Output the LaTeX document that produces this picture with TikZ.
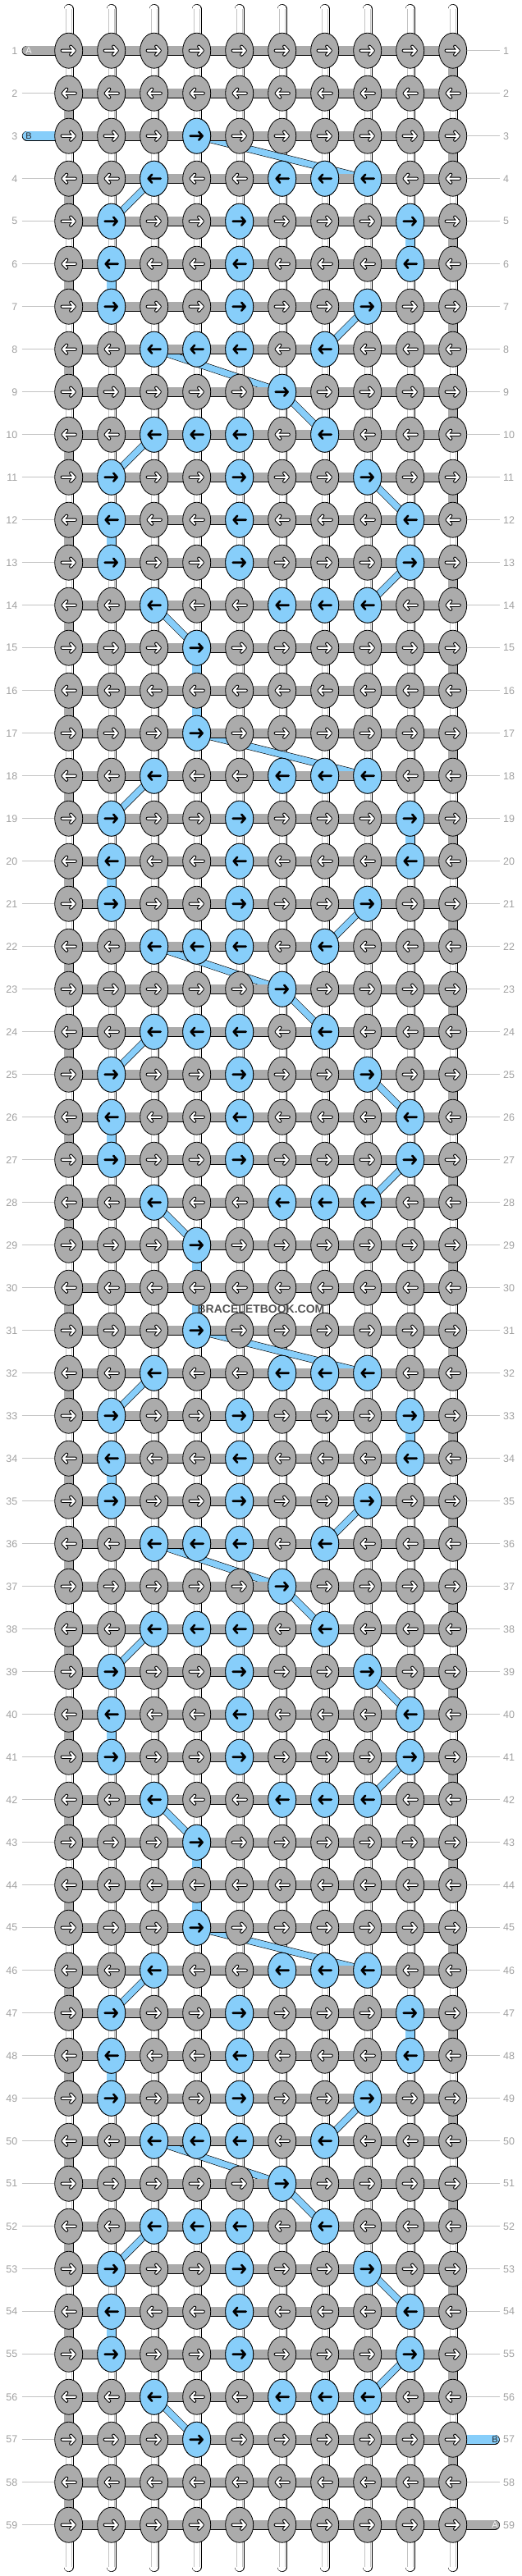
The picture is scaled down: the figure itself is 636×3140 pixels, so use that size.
\documentclass[tikz,border=0pt]{standalone}
\usepackage{fontspec}
\setmainfont{Liberation Sans}
\usetikzlibrary{shapes.geometric}

\definecolor{knotgray}{RGB}{171,171,171}
\definecolor{knotblue}{RGB}{135,206,250}
\definecolor{labgray}{RGB}{160,160,160}
\definecolor{labline}{RGB}{195,195,195}

\pgfdeclarelayer{warp}
\pgfdeclarelayer{weft}
\pgfdeclarelayer{bars}
\pgfsetlayers{warp,weft,bars,main}

\tikzset{
  knot/.style={ellipse, draw=black, line width=0.8pt, fill=knotgray,
    minimum width=34pt, minimum height=43pt, inner sep=0pt},
  blueknot/.style={knot, fill=knotblue},
  warpline/.style={draw=black, line width=0.6pt, double=white,
    double distance=10.5pt, line cap=round},
  barline/.style={draw=black, line width=0.6pt, double=knotgray,
    double distance=10.8pt},
  bvert/.style={draw=black, line width=0.6pt, double=knotblue,
    double distance=10.5pt},
  bdiag/.style={draw=black, line width=0.6pt, double=knotblue,
    double distance=7.5pt},
  rowlab/.style={text=labgray, font=\fontsize{12.5}{14}\selectfont, inner sep=0pt},
  labrule/.style={draw=labline, line width=0.8pt},
  endlab/.style={font=\fontsize{11}{12}\selectfont, inner sep=0pt},
  wbarb/.pic={
    \draw[black, line width=4.2pt, line cap=round, line join=round]
      (-8,0) -- (7,0) (2.5,-5) -- (7,0) -- (2.5,5);
    \draw[white, line width=2.2pt, line cap=round, line join=round]
      (-8,0) -- (7,0) (2.5,-5) -- (7,0) -- (2.5,5);
  },
  kbarb/.pic={
    \draw[black, line width=2.6pt, line cap=round, line join=round]
      (-8,0) -- (7,0) (2.5,-5) -- (7,0) -- (2.5,5);
  }
}

\begin{document}
\begin{tikzpicture}[x=1pt, y=-1pt]
\useasboundingbox (0,0) rectangle (636,3140);

% knots, arrows and row numbers
\foreach \r in {1,...,59} {
  \pgfmathsetmacro{\yy}{61.7+52*(\r-1)}
  \pgfmathtruncatemacro{\dir}{isodd(\r) ? 1 : -1}
  \foreach \c in {1,...,10} {
    \node[knot] (k-\r-\c) at ({83.7+52*(\c-1)}, \yy) {};
    \pic[xscale=\dir] at (k-\r-\c) {wbarb};
  }
  \node[rowlab, anchor=east] (ll-\r) at (21.5, \yy) {\r};
  \node[rowlab, anchor=west] (rl-\r) at (613, \yy) {\r};
}

% blue knots of the motif
\foreach \base in {3,17,31,45}
  \foreach \cols [count=\k from 0] in {{4},{3,6,7,8},{2,5,9},{2,5,9},{2,5,8},{3,4,5,7},{6},{3,4,5,7},{2,5,8},{2,5,9},{2,5,9},{3,6,7,8},{4}} {
    \pgfmathtruncatemacro{\r}{\base+\k}
    \pgfmathtruncatemacro{\dir}{isodd(\r) ? 1 : -1}
    \foreach \c in \cols {
      \node[blueknot] (b-\r-\c) at (k-\r-\c) {};
      \pic[xscale=\dir] at (b-\r-\c) {kbarb};
    }
  }

% label rules
\foreach \r in {2,4,5,...,59}
  \draw[labrule] ([xshift=5.2pt]ll-\r.east) -- (k-\r-1.west);
\foreach \r in {1,...,56,58}
  \draw[labrule] (k-\r-10.east) -- ([xshift=-4pt]rl-\r.west);

% vertical strings
\begin{pgfonlayer}{warp}
  \foreach \c in {1,...,10} {
    \coordinate (wt-\c) at ({83.7+52*(\c-1)}, 10.9);
    \coordinate (wb-\c) at ({83.7+52*(\c-1)}, 3129.1);
    \draw[warpline] (wt-\c) -- (wb-\c);
    \draw[labline, line width=0.5pt] ([xshift=-3.2pt]wt-\c) -- ([xshift=-3.2pt]wb-\c)
      ([xshift=3.2pt]wt-\c) -- ([xshift=3.2pt]wb-\c);
  }
\end{pgfonlayer}

% string B from knot to knot
\begin{pgfonlayer}{weft}
  \foreach \base in {3,17,31,45}
    \foreach \k/\a/\b in {0/4/8,1/3/2,2/9/9,3/2/2,4/8/7,5/3/6,6/6/7,7/3/2,8/8/9,9/2/2,10/9/8,11/3/4} {
      \pgfmathtruncatemacro{\r}{\base+\k}
      \pgfmathtruncatemacro{\s}{\r+1}
      \ifnum\a=\b
        \draw[bvert] (k-\r-\a.center) -- (k-\s-\b.center);
      \else
        \draw[bdiag] (k-\r-\a.center) -- (k-\s-\b.center);
      \fi
    }
  \foreach \r in {15,29,43} {
    \pgfmathtruncatemacro{\s}{\r+2}
    \draw[bvert] (k-\r-4.center) -- (k-\s-4.center);
  }
\end{pgfonlayer}

% rows, turns and loose ends
\begin{pgfonlayer}{bars}
  \foreach \r in {1,...,59}
    \draw[barline] (k-\r-1.center) -- (k-\r-10.center);
  \foreach \r in {1,...,58} {
    \pgfmathtruncatemacro{\s}{\r+1}
    \pgfmathtruncatemacro{\c}{isodd(\r) ? 10 : 1}
    \draw[barline] (k-\r-\c.center) -- (k-\s-\c.center);
  }
  \coordinate (a-in) at (32.7, 61.7);
  \coordinate (b-in) at (32.7, 165.7);
  \coordinate (b-out) at (603, 2973.7);
  \coordinate (a-out) at (603, 3077.7);
  \draw[barline, line cap=round] (a-in) -- (k-1-1.center);
  \draw[bvert, line cap=round] (b-in) -- (k-3-1.center);
  \draw[bvert, line cap=round] (k-57-10.center) -- (b-out);
  \draw[barline, line cap=round] (k-59-10.center) -- (a-out);
\end{pgfonlayer}

\node[endlab, text=white!92!gray] (lab-a-in) at (35, 61.7) {A};
\node[endlab, text=black!85] (lab-b-in) at (35, 165.7) {B};
\node[endlab, text=black!85] (lab-b-out) at (603, 2973.7) {B};
\node[endlab, text=white!92!gray] (lab-a-out) at (603, 3077.7) {A};

\node[font=\bfseries\fontsize{14}{16}\selectfont, text={rgb,255:red,85;green,85;blue,85}] (mark) at (318, 1595.7) {BRACELETBOOK.COM};
\end{tikzpicture}
\end{document}
